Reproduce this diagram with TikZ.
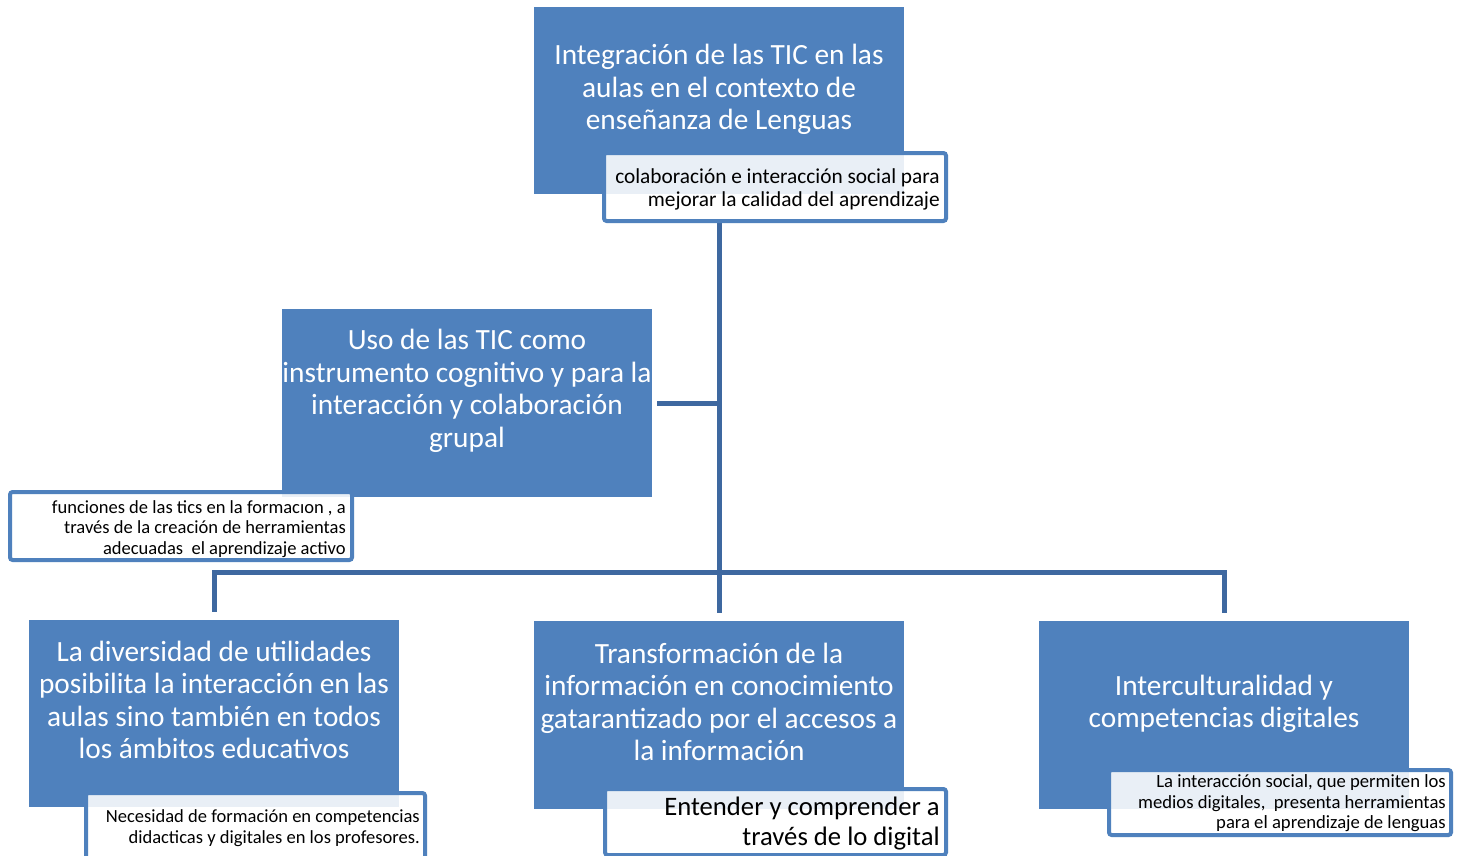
\documentclass[tikz,border=0pt]{standalone}
\usepackage{fontspec}
\setmainfont{Carlito}
\definecolor{boxblue}{RGB}{79,129,189}
\definecolor{linkblue}{RGB}{62,104,160}
\begin{document}
\begin{tikzpicture}[x=0.75pt,y=-0.75pt,
  mainbox/.style={fill=boxblue,draw=none,inner sep=0pt,minimum width=277.5pt},
  maintext/.style={text=white,align=center,inner sep=0pt,
    font=\fontsize{22pt}{24.4pt}\selectfont},
  notebox/.style={draw=boxblue,line width=3pt,rounded corners=2pt,fill=white,fill opacity=0.88,
    inner sep=0pt},
  notetext/.style={anchor=east,align=right,text=black,inner sep=0pt},
  link/.style={draw=linkblue,line width=3.75pt}]
\useasboundingbox (0,0) rectangle (1460,856);
\fill[white] (0,0) rectangle (1460,856);

% main boxes
\node[mainbox,minimum height=140.25pt] (top) at (719,100.5) {};
\node[maintext] (toptext) at (719,89.5) {Integración de las TIC en las\\aulas en el contexto de\\enseñanza de Lenguas};

\node[mainbox,minimum height=141pt] (uso) at (467,403) {};
\node[maintext] (usotext) at (467,391) {Uso de las TIC como\\instrumento cognitivo y para la\\interacción y colaboración\\grupal};

\node[mainbox,minimum height=140.25pt] (lb) at (214,713.5) {};
\node[maintext] (lbtext) at (214,700) {La diversidad de utilidades\\posibilita la interacción en las\\aulas sino también en todos\\los ámbitos educativos};

\node[mainbox,minimum height=141pt] (mb) at (719,715) {};
\node[maintext] (mbtext) at (719,702) {Transformación de la\\información en conocimiento\\gatarantizado por el accesos a\\la información};

\node[mainbox,minimum height=141pt] (rb) at (1224,715) {};
\node[maintext] (rbtext) at (1224,704) {Interculturalidad y\\competencias digitales};

% connectors
\coordinate (J) at (718,572);
\draw[link] (top.south |- 0,221) -- ([yshift=6pt]mb.north);
\draw[link] ([xshift=3.75pt]uso.east) -- (uso.east -| J);
\draw[link] ([yshift=6pt]lb.north) |- (J) -| ([yshift=5.5pt]rb.north);

% note boxes
\node[notebox,minimum width=256.5pt,minimum height=51pt] (c1) at (775,187) {};
\node[notetext,font=\fontsize{16pt}{17.25pt}\selectfont] (c1text) at (940,189)
  {colaboración e interacción social para\\mejorar la calidad del aprendizaje};

\node[notebox,minimum width=256.5pt,minimum height=51pt] (c2) at (181,526) {};
\node[notetext,font=\fontsize{13.9pt}{15.4pt}\selectfont] (c2text) at (346,528.8)
  {funciones de las tics en la formacıon , a\\través de la creación de herramientas\\adecuadas\ \ el aprendizaje activo};

\node[notebox,minimum width=254.25pt,minimum height=57.75pt] (c3) at (255.5,831.5) {};
\node[notetext,font=\fontsize{13.9pt}{15.75pt}\selectfont] (c3text) at (420,828.5)
  {Necesidad de formación en competencias\\didacticas y digitales en los profesores.};

\node[notebox,minimum width=255.75pt,minimum height=49.5pt] (c4) at (775.5,822) {};
\node[notetext,font=\fontsize{20pt}{22.5pt}\selectfont] (c4text) at (940,824)
  {Entender y comprender a\\través de lo digital};

\node[notebox,minimum width=256.5pt,minimum height=48.75pt] (c5) at (1280,802.5) {};
\node[notetext,font=\fontsize{14pt}{15.4pt}\selectfont] (c5text) at (1446,803.5)
  {La interacción social, que permiten los\\medios digitales,\ \ presenta herramientas\\para el aprendizaje de lenguas};
\end{tikzpicture}
\end{document}
